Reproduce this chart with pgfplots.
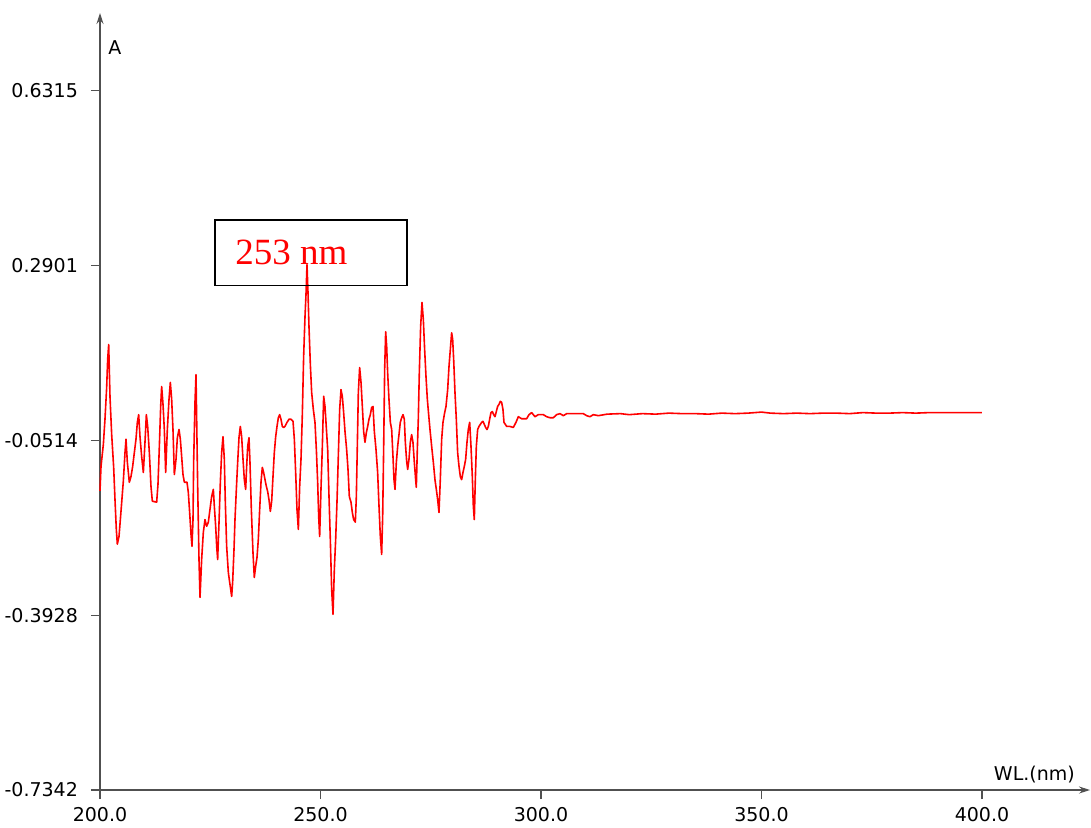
\documentclass[border=0pt]{standalone}
\usepackage{pgfplots}
\pgfplotsset{compat=1.18}
\usepackage{pgfplotstable}
\usetikzlibrary{arrows.meta}
\usepackage{fontspec}
\setmainfont{DejaVu Sans}
\newfontfamily\annotfont{Liberation Serif}

% Absorbance spectrum, wavelength (nm) vs A
\pgfplotstableread{
wl     A
200.00 -0.150
200.23 -0.102
200.76 -0.059
201.13 -0.010
201.51 0.052
201.74 0.107
201.97 0.136
202.27 0.033
202.65 -0.040
203.10 -0.104
203.40 -0.167
203.70 -0.225
203.93 -0.254
204.31 -0.239
204.76 -0.190
205.29 -0.131
205.67 -0.075
205.90 -0.049
206.20 -0.094
206.65 -0.133
207.03 -0.122
207.41 -0.102
207.79 -0.075
208.16 -0.049
208.47 -0.016
208.77 -0.001
209.07 -0.044
209.45 -0.083
209.83 -0.114
210.20 -0.055
210.51 -0.001
210.81 -0.024
211.19 -0.075
211.56 -0.141
211.87 -0.170
212.85 -0.172
213.15 -0.137
213.46 -0.063
213.76 0.015
213.98 0.054
214.29 0.019
214.59 -0.030
214.89 -0.114
215.27 -0.030
215.65 0.029
215.95 0.062
216.25 0.029
216.55 -0.030
216.86 -0.118
217.24 -0.088
217.54 -0.046
217.92 -0.030
218.22 -0.049
218.52 -0.083
218.82 -0.118
219.13 -0.133
219.73 -0.133
220.03 -0.153
220.33 -0.192
220.64 -0.235
220.86 -0.258
221.09 -0.206
221.24 -0.092
221.54 0.023
221.77 0.077
222.15 -0.141
222.45 -0.284
222.68 -0.358
223.05 -0.284
223.43 -0.231
223.81 -0.206
224.19 -0.219
224.57 -0.211
224.94 -0.186
225.32 -0.161
225.70 -0.147
225.93 -0.180
226.23 -0.219
226.46 -0.258
226.68 -0.284
226.99 -0.211
227.29 -0.133
227.59 -0.075
227.89 -0.044
228.19 -0.088
228.42 -0.172
228.72 -0.258
229.10 -0.309
229.40 -0.328
229.86 -0.356
230.08 -0.328
230.39 -0.264
230.61 -0.206
230.92 -0.147
231.22 -0.094
231.52 -0.046
231.82 -0.024
232.12 -0.044
232.43 -0.088
232.73 -0.128
233.03 -0.147
233.26 -0.102
233.49 -0.063
233.79 -0.046
234.01 -0.094
234.32 -0.186
234.69 -0.270
234.99 -0.319
235.30 -0.297
235.60 -0.280
235.90 -0.245
236.21 -0.186
236.51 -0.133
236.81 -0.104
237.11 -0.114
237.42 -0.128
237.72 -0.141
238.02 -0.151
238.32 -0.167
238.63 -0.190
238.93 -0.170
239.23 -0.122
239.53 -0.075
239.84 -0.044
240.14 -0.024
240.44 -0.007
240.74 -0.001
241.04 -0.010
241.35 -0.024
241.65 -0.026
241.95 -0.024
242.41 -0.016
242.86 -0.010
243.31 -0.010
243.77 -0.014
244.07 -0.049
244.37 -0.114
244.67 -0.186
244.98 -0.225
245.28 -0.141
245.58 -0.088
245.88 -0.001
246.18 0.113
246.49 0.191
246.71 0.233
246.94 0.292
247.17 0.237
247.39 0.171
247.70 0.097
248.00 0.042
248.38 0.009
248.75 -0.016
249.06 -0.069
249.36 -0.133
249.59 -0.200
249.81 -0.239
250.11 -0.147
250.42 -0.063
250.72 0.035
251.02 0.015
251.32 -0.026
251.63 -0.069
251.93 -0.161
252.23 -0.245
252.53 -0.342
252.84 -0.391
253.14 -0.303
253.44 -0.245
253.74 -0.172
254.04 -0.083
254.35 0.009
254.65 0.048
254.95 0.035
255.25 0.003
255.56 -0.034
255.93 -0.069
256.24 -0.108
256.54 -0.161
256.92 -0.172
257.22 -0.192
257.52 -0.206
257.90 -0.211
258.13 -0.161
258.35 -0.063
258.58 0.042
258.88 0.091
259.19 0.062
259.49 0.015
259.79 -0.034
260.09 -0.055
260.40 -0.036
260.70 -0.024
261.00 -0.010
261.30 -0.001
261.60 0.013
261.91 0.015
262.21 -0.034
262.59 -0.069
262.96 -0.114
263.27 -0.180
263.57 -0.239
263.87 -0.274
264.10 -0.200
264.33 -0.063
264.55 0.087
264.78 0.161
265.01 0.132
265.23 0.081
265.53 0.029
265.84 -0.016
266.14 -0.030
266.44 -0.083
266.67 -0.128
266.90 -0.147
267.20 -0.094
267.50 -0.063
267.80 -0.040
268.10 -0.016
268.41 -0.007
268.71 -0.001
269.01 -0.010
269.24 -0.055
269.54 -0.092
269.77 -0.108
270.07 -0.088
270.37 -0.055
270.67 -0.040
270.97 -0.055
271.28 -0.094
271.58 -0.128
271.73 -0.143
271.96 -0.069
272.18 -0.010
272.41 0.081
272.71 0.171
273.02 0.218
273.32 0.185
273.62 0.126
273.92 0.074
274.23 0.029
274.53 -0.001
274.83 -0.030
275.21 -0.063
275.59 -0.094
275.96 -0.128
276.27 -0.147
276.57 -0.167
276.87 -0.192
277.17 -0.128
277.48 -0.049
277.78 -0.016
278.16 0.003
278.46 0.015
278.84 0.048
279.14 0.093
279.44 0.126
279.74 0.159
279.97 0.146
280.20 0.107
280.50 0.042
280.80 -0.010
281.10 -0.075
281.41 -0.102
281.71 -0.122
282.01 -0.128
282.31 -0.114
282.62 -0.102
282.92 -0.088
283.22 -0.055
283.52 -0.030
283.83 -0.016
284.13 -0.063
284.43 -0.122
284.66 -0.180
284.88 -0.206
285.11 -0.128
285.34 -0.063
285.64 -0.030
285.94 -0.024
286.24 -0.020
286.55 -0.016
286.85 -0.014
287.15 -0.020
287.45 -0.026
287.76 -0.030
288.06 -0.024
288.36 -0.010
288.66 0.003
288.97 0.005
289.27 -0.001
289.57 -0.005
289.87 0.005
290.17 0.015
290.48 0.019
290.78 0.025
291.08 0.023
291.38 0.009
291.61 -0.016
292.22 -0.024
292.97 -0.024
293.73 -0.026
294.33 -0.016
294.86 -0.005
295.62 -0.009
296.75 -0.009
297.28 -0.001
297.88 0.003
298.64 -0.005
299.40 -0.001
300.53 -0.001
301.29 -0.005
302.04 -0.007
302.80 -0.007
303.55 -0.001
304.31 0.001
305.07 -0.003
305.82 0.001
307.33 0.001
309.60 0.001
310.36 -0.003
311.11 -0.005
311.87 -0.001
313.00 -0.003
315.00 0.000
318.00 0.001
320.00 -0.001
323.00 0.001
326.00 0.000
329.00 0.002
332.00 0.001
335.00 0.001
338.00 0.000
341.00 0.002
344.00 0.001
347.00 0.002
350.00 0.004
352.00 0.002
355.00 0.001
358.00 0.002
361.00 0.001
364.00 0.002
367.00 0.002
370.00 0.001
373.00 0.003
376.00 0.002
379.00 0.002
382.00 0.003
385.00 0.002
388.00 0.003
391.00 0.003
394.00 0.003
397.00 0.003
400.00 0.003
}\spectrum

\definecolor{axisgray}{RGB}{80,80,80}

\begin{document}
\begin{tikzpicture}
\begin{axis}[
  at={(0,0)}, anchor=south west,
  scale only axis,
  width=495pt, height=388.5pt,
  axis lines=left,
  xmin=200, xmax=424.5,
  ymin=-0.7342, ymax=0.7836,
  axis line style={draw=axisgray, line width=0.6pt, -{Stealth[length=5.5pt,width=3.5pt]}},
  tick style={draw=axisgray, line width=0.6pt},
  tick align=outside,
  major tick length=4.5pt,
  xtick={200,250,300,350,400},
  xticklabels={200.0,250.0,300.0,350.0,400.0},
  ytick={-0.7342,-0.3928,-0.0514,0.2901,0.6315},
  yticklabels={-0.7342,-0.3928,-0.0514,0.2901,0.6315},
  ticklabel style={font=\fontsize{9.5}{11}\selectfont, text=black},
  yticklabel style={xshift=-3pt},
  xticklabel style={yshift=-0.5pt},
  clip=false,
]
\addplot[red, line width=0.8pt, line join=round] table[x=wl, y=A] {\spectrum};

% peak annotation
\draw[black, line width=0.75pt] (axis cs:226.08,0.2510) rectangle (axis cs:269.61,0.3797);
\node[anchor=base west, inner sep=0pt, text=red, font=\annotfont\fontsize{18.5}{20}\selectfont]
  at (axis cs:230.61,0.2920) {253 nm};

% axis captions
\node[anchor=west, inner sep=0pt, font=\fontsize{9.5}{11}\selectfont]
  at (rel axis cs:0,0.956) [xshift=4pt] {A};
\node[anchor=base east, inner sep=0pt, font=\fontsize{9.5}{11}\selectfont]
  at (rel axis cs:0.985,0) [yshift=5pt] {WL.(nm)};
\end{axis}
\pgfresetboundingbox
\path (-50pt,-18.5pt) rectangle (495.5pt,395pt);
\end{tikzpicture}
\end{document}
